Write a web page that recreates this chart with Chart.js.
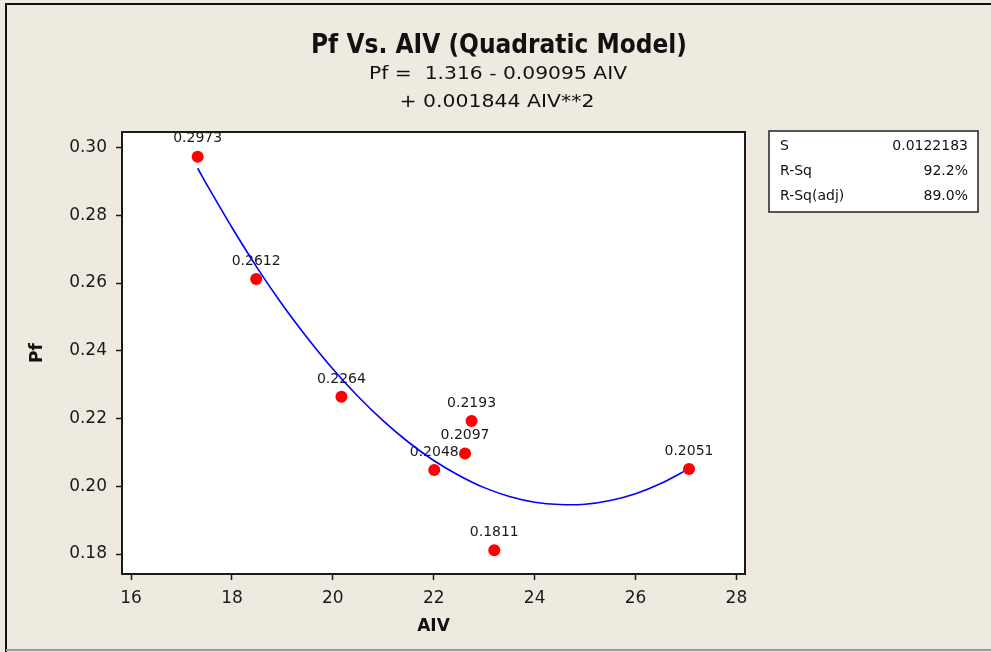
<!DOCTYPE html>
<html><head><meta charset="utf-8">
<script src="https://cdn.jsdelivr.net/npm/chart.js@4/dist/chart.umd.min.js"></script>
<style>html,body{margin:0;padding:0;background:#EEEAE0;} #wrap{width:991px;height:652px;position:relative;}</style>
</head><body><div id="wrap"><canvas id="c" width="991" height="652"></canvas></div>
<script>
// Observed data points (AIV, Pf)
const aivValues = [17.32, 18.48, 20.17, 22.01, 22.62, 22.75, 23.20, 27.06];
const pfValues  = [0.2973, 0.2612, 0.2264, 0.2048, 0.2097, 0.2193, 0.1811, 0.2051];
const pointLabels = ['0.2973', '0.2612', '0.2264', '0.2048', '0.2097', '0.2193', '0.1811', '0.2051'];
// Fitted quadratic curve
const fitAiv = [17.32, 17.5, 18, 18.5, 19, 19.5, 20, 20.5, 21, 21.5, 22, 22.5, 23, 23.5, 24, 24.5, 25, 25.5, 26, 26.5, 27.06];
const fitPf  = [0.2939, 0.2891, 0.2764, 0.2645, 0.2536, 0.2437, 0.2346, 0.2265, 0.2193, 0.2130, 0.2076, 0.2032, 0.1996, 0.1970, 0.1953, 0.1946, 0.1947, 0.1958, 0.1978, 0.2008, 0.2052];
// Texts
const titleText = 'Pf Vs. AIV (Quadratic Model)';
const equationLines = ['Pf =  1.316 - 0.09095 AIV', '+ 0.001844 AIV**2'];
const statNames = ['S', 'R-Sq', 'R-Sq(adj)'];
const statValues = ['0.0122183', '92.2%', '89.0%'];
const xTitle = 'AIV';
const yTitle = 'Pf';

const BG = '#EEEAE0';
const FONT = '"DejaVu Sans", Verdana, sans-serif';

function fitText(ctx, text, x, y, font, targetW) {
  ctx.save();
  ctx.font = font;
  const w = ctx.measureText(text).width;
  const s = targetW / w;
  ctx.translate(x, y);
  ctx.scale(s, 1);
  ctx.textAlign = 'center';
  ctx.textBaseline = 'middle';
  ctx.fillText(text, 0, 0);
  ctx.restore();
}

const decor = {
  id: 'decor',
  beforeDraw(chart) {
    const {ctx, chartArea: a, width, height} = chart;
    ctx.save();
    ctx.fillStyle = BG;
    ctx.fillRect(0, 0, width, height);
    ctx.fillStyle = '#FFFFFF';
    ctx.fillRect(a.left, a.top, a.right - a.left, a.bottom - a.top);
    // outer frame
    ctx.strokeStyle = '#111';
    ctx.lineWidth = 2;
    ctx.beginPath();
    ctx.moveTo(6, height); ctx.lineTo(6, 4); ctx.lineTo(width, 4);
    ctx.stroke();
    ctx.strokeStyle = '#9a9a9a';
    ctx.beginPath();
    ctx.moveTo(6, 650); ctx.lineTo(width, 650);
    ctx.stroke();
    ctx.restore();
  },
  beforeDatasetsDraw(chart) {
    const {ctx} = chart;
    const meta = chart.getDatasetMeta(0);
    ctx.save();
    ctx.fillStyle = '#1a1a1a';
    ctx.font = '14px ' + FONT;
    ctx.textAlign = 'center';
    ctx.textBaseline = 'middle';
    meta.data.forEach((el, i) => {
      ctx.fillText(pointLabels[i], el.x, el.y - 18);
    });
    ctx.restore();
  },
  afterDraw(chart) {
    const {ctx, chartArea: a} = chart;
    ctx.save();
    ctx.strokeStyle = '#1a1a1a';
    ctx.lineWidth = 2;
    ctx.strokeRect(a.left, a.top, a.right - a.left, a.bottom - a.top);
    // Title + equation
    ctx.fillStyle = '#111';
    fitText(ctx, titleText, 499, 46, 'bold 27px ' + FONT, 376);
    fitText(ctx, equationLines[0], 498, 74, '18px ' + FONT, 258);
    fitText(ctx, equationLines[1], 497, 102, '18px ' + FONT, 195);
    // Stats box
    ctx.strokeStyle = '#222';
    ctx.lineWidth = 1.5;
    ctx.fillStyle = '#FFFFFF';
    ctx.fillRect(769, 131, 209, 81);
    ctx.strokeRect(769, 131, 209, 81);
    ctx.fillStyle = '#111';
    ctx.font = '14px ' + FONT;
    ctx.textBaseline = 'middle';
    statNames.forEach((n, i) => {
      const y = 146 + i * 25;
      ctx.textAlign = 'left';
      ctx.fillText(n, 780, y);
      ctx.textAlign = 'right';
      ctx.fillText(statValues[i], 968, y);
    });
    ctx.restore();
  }
};

new Chart(document.getElementById('c'), {
  type: 'scatter',
  data: {
    datasets: [
      {
        label: 'Pf',
        data: aivValues.map((x, i) => ({x, y: pfValues[i]})),
        pointRadius: 6,
        pointHoverRadius: 6,
        pointBackgroundColor: '#FF0000',
        pointBorderWidth: 0,
        borderColor: '#FF0000',
        showLine: false
      },
      {
        label: 'Fit',
        data: fitAiv.map((x, i) => ({x, y: fitPf[i]})),
        showLine: true,
        borderColor: '#0000FF',
        borderWidth: 1.6,
        pointRadius: 0,
        tension: 0.3,
        fill: false
      }
    ]
  },
  options: {
    responsive: false,
    devicePixelRatio: 1,
    animation: false,
    events: [],
    layout: { padding: { top: 132, right: 246, left: 0, bottom: 0 } },
    plugins: { legend: { display: false }, tooltip: { enabled: false }, title: { display: false } },
    scales: {
      x: {
        type: 'linear',
        min: 15.82, max: 28.17,
        afterFit(s) { s.height = 78; },
        ticks: { stepSize: 2, includeBounds: false, color: '#1a1a1a', font: { family: FONT, size: 17 }, padding: 8, maxRotation: 0 },
        grid: { display: true, drawOnChartArea: false, drawTicks: true, tickLength: 6, color: '#1a1a1a', tickWidth: 1.5 },
        border: { display: true, color: '#1a1a1a', width: 2 },
        title: { display: true, text: xTitle, color: '#111', font: { family: FONT, size: 17, weight: 'bold' }, padding: { top: 0, bottom: 15 } }
      },
      y: {
        type: 'linear',
        min: 0.1741, max: 0.3046,
        afterFit(s) { s.width = 122; },
        ticks: { stepSize: 0.02, includeBounds: false, color: '#1a1a1a', font: { family: FONT, size: 17 }, padding: 9, callback: v => v.toFixed(2) },
        grid: { display: true, drawOnChartArea: false, drawTicks: true, tickLength: 6, color: '#1a1a1a', tickWidth: 1.5 },
        border: { display: true, color: '#1a1a1a', width: 2 },
        title: { display: true, text: yTitle, color: '#111', font: { family: FONT, size: 17, weight: 'bold' }, padding: { top: 27, bottom: 0 } }
      }
    }
  },
  plugins: [decor]
});
</script>
</body></html>
